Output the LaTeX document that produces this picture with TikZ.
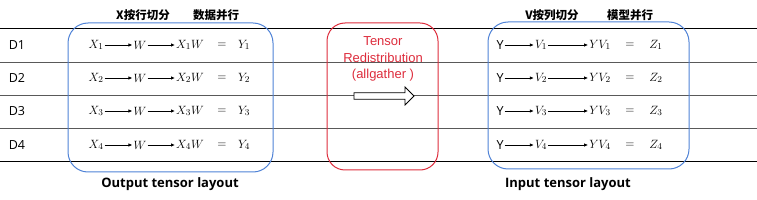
\documentclass[tikz,border=0pt]{standalone}
\usepackage{fontspec}
\setmainfont{Open Sans}
\newfontfamily\cjk{Noto Sans CJK SC}
\newfontfamily\arialish{Liberation Sans}
\usetikzlibrary{arrows.meta}
\definecolor{boxblue}{HTML}{4F82D6}
\definecolor{boxred}{HTML}{DD2C3C}
\begin{document}
\begin{tikzpicture}[x=1pt,y=-1pt,
  lbl/.style={font=\fontsize{12.5}{14}\selectfont, anchor=center, inner sep=0pt},
  mth/.style={font=\fontsize{13}{15}\selectfont, anchor=center, inner sep=0pt},
  head/.style={font=\fontsize{11.5}{13}\selectfont\cjk\bfseries, anchor=center, inner sep=0pt},
  foot/.style={font=\fontsize{13}{15}\selectfont\bfseries, anchor=center, inner sep=0pt},
  arr/.style={-{Latex[length=4pt,width=3.5pt]}, line width=0.8pt, shorten <=1pt, shorten >=1pt},
  grp/.style={draw=boxblue, line width=1pt, rounded corners=20pt},
  hline/.style={line width=1pt}
]
\useasboundingbox (0,0) rectangle (757,200);
% horizontal lines
\foreach \i/\yy/\c in {0/29/black, 1/63/black!65, 2/96/black!65, 3/129/black!65, 4/162/black} {
  \coordinate (la\i) at (0,\yy);
  \coordinate (lb\i) at (757,\yy);
  \draw[hline, draw=\c] (la\i) -- (lb\i);
}
% boxes
\node[grp, minimum width=205pt, minimum height=149pt] (left) at (170.5,97.5) {};
\node[grp, minimum width=201pt, minimum height=147pt] (right) at (588.5,95.5) {};
\node[draw=boxred, line width=1pt, rounded corners=18pt, minimum width=111pt, minimum height=147pt] (mid) at (382.5,96.5) {};
% headers
\node[head] (h1) at (143,15) {X按行切分};
\node[head] (h2) at (216,15) {数据并行};
\node[head] (h3) at (552,15) {V按列切分};
\node[head] (h4) at (630,15) {模型并行};
% footers
\node[foot] (f1) at (170,184) {Output tensor layout};
\node[foot] (f2) at (568,184) {Input tensor layout};
% rows
\foreach \i/\yy in {1/45, 2/78, 3/111, 4/145} {
  \node[lbl] (d\i) at (17,\yy) {D\i};
  \node[mth] (x\i) at (96,\yy) {$X_{\i}$};
  \node[mth] (w\i) at (140,\yy) {$W$};
  \node[mth] (xw\i) at (190,\yy) {$X_{\i}W$};
  \node[mth] (eq\i) at (222,\yy) {$=$};
  \node[mth] (y\i) at (244,\yy) {$Y_{\i}$};
  \draw[arr] (x\i) -- (w\i);
  \draw[arr] (w\i) -- (xw\i);
  \node[lbl] (ya\i) at (500,\yy) {Y};
  \node[mth] (v\i) at (541,\yy) {$V_{\i}$};
  \node[mth] (yv\i) at (600,\yy) {$YV_{\i}$};
  \node[mth] (eqb\i) at (630,\yy) {$=$};
  \node[mth] (z\i) at (656,\yy) {$Z_{\i}$};
  \draw[arr] (ya\i) -- (v\i);
  \draw[arr] (v\i) -- (yv\i);
}
% red text
\node[font=\fontsize{13}{16.5}\selectfont\arialish, text=boxred, align=center, inner sep=0pt] (rt) at (383,59) {Tensor\\Redistribution\\(allgather )};
% block arrow
\draw[line width=0.8pt, fill=white, line join=miter]
  (354,92.7) -- (405,92.7) -- (405,87) -- (414,96) -- (405,105) -- (405,99.3) -- (354,99.3) -- cycle;
\end{tikzpicture}
\end{document}
